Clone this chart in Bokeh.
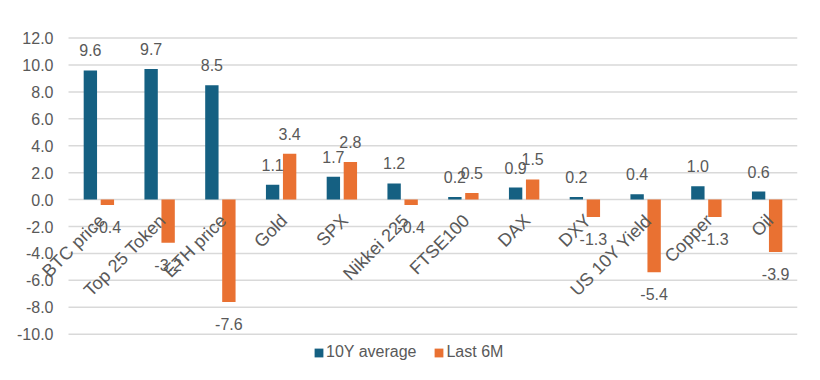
import math
from bokeh.plotting import figure
from bokeh.models import (ColumnDataSource, Legend, LegendItem, NumeralTickFormatter,
                          FixedTicker, LinearAxis, Range1d, CustomJSTickFormatter)
from bokeh.transform import dodge
from bokeh.core.properties import value
from bokeh.embed import file_html
from bokeh.resources import INLINE

categories = ["BTC price", "Top 25 Token", "ETH price", "Gold", "SPX", "Nikkei 225",
              "FTSE100", "DAX", "DXY", "US 10Y Yield", "Copper", "Oil"]
avg_10y = [9.6, 9.7, 8.5, 1.1, 1.7, 1.2, 0.2, 0.9, 0.2, 0.4, 1.0, 0.6]
last_6m = [-0.4, -3.2, -7.6, 3.4, 2.8, -0.4, 0.5, 1.5, -1.3, -5.4, -1.3, -3.9]
y_ticks = [-10, -8, -6, -4, -2, 0, 2, 4, 6, 8, 10, 12]
series_names = ["10Y average", "Last 6M"]

BLUE = "#156082"
ORANGE = "#E97132"
GRAY_TXT = "#595959"
GRID = "#D9D9D9"
FONT = "Liberation Sans"

# layout constants (pixels)
W, H = 806, 372
LEFT_PAD_PX = 68       # space for the value labels left of the plot area
RIGHT_PX = 9
AREA_PX = W - LEFT_PAD_PX - RIGHT_PX

def fmt(v):
    return f"{v:.1f}"

def offs(vals):
    return [-20 if v >= 0 else 22 for v in vals]

n = len(categories)
cat_w = AREA_PX / n
left_pad = LEFT_PAD_PX / cat_w

src = ColumnDataSource(dict(
    idx=list(range(n)), a=avg_10y, b=last_6m,
    a_lbl=[fmt(v) for v in avg_10y], b_lbl=[fmt(v) for v in last_6m],
    a_off=offs(avg_10y), b_off=offs(last_6m),
))

p = figure(width=W, height=H, x_range=Range1d(-0.5 - left_pad, n - 0.5),
           y_range=(-12.4, 14.2), output_backend="svg", toolbar_location=None,
           min_border_left=0, min_border_right=RIGHT_PX, min_border_top=8, min_border_bottom=6)
p.outline_line_color = None
p.background_fill_color = "white"
p.xaxis.visible = False
p.yaxis.visible = False
p.xgrid.visible = False
p.ygrid.visible = False

# horizontal gridlines across the plot area only
p.segment(x0=-0.5, x1=n - 0.5, y0=y_ticks, y1=y_ticks, line_color=GRID, line_width=1.5)

ra = p.vbar(x=dodge("idx", -0.14), top="a", width=0.22, source=src,
            fill_color=BLUE, line_color=None)
rb = p.vbar(x=dodge("idx", 0.14), top="b", width=0.22, source=src,
            fill_color=ORANGE, line_color=None)

# data labels
for key, dx in (("a", -0.14), ("b", 0.14)):
    p.text(x=dodge("idx", dx), y=key, text=f"{key}_lbl", y_offset=f"{key}_off",
           source=src, text_align="center", text_baseline="middle",
           text_font=value(FONT), text_font_size="16px", text_color=GRAY_TXT)

# value axis at the left edge of the plot area
val_axis = LinearAxis(ticker=FixedTicker(ticks=y_ticks), formatter=NumeralTickFormatter(format="0.0"),
                      fixed_location=-0.5)
val_axis.axis_line_color = None
val_axis.major_tick_line_color = None
val_axis.minor_tick_line_color = None
val_axis.major_tick_out = 0
val_axis.minor_tick_out = 0
val_axis.major_label_standoff = 15
val_axis.major_label_text_font = FONT
val_axis.major_label_text_font_size = "16px"
val_axis.major_label_text_color = GRAY_TXT
p.add_layout(val_axis, "left")

# category axis drawn at the zero line, labels slanted
shift = 0.05
p.extra_x_ranges = {"lbl": Range1d(start=-0.5 - left_pad - shift, end=n - 0.5 - shift)}
cat_axis = LinearAxis(x_range_name="lbl", ticker=FixedTicker(ticks=list(range(n))),
                      formatter=CustomJSTickFormatter(args=dict(cats=categories),
                                                      code="return cats[Math.round(tick)] || '';"),
                      fixed_location=0)
cat_axis.axis_line_color = None
cat_axis.major_tick_line_color = None
cat_axis.minor_tick_line_color = None
cat_axis.major_tick_out = 0
cat_axis.minor_tick_out = 0
cat_axis.major_label_orientation = math.pi / 4
cat_axis.major_label_standoff = 18
cat_axis.major_label_text_font = FONT
cat_axis.major_label_text_font_size = "18px"
cat_axis.major_label_text_color = GRAY_TXT
p.add_layout(cat_axis, "below")

legend = Legend(items=[LegendItem(label=series_names[0], renderers=[ra]),
                       LegendItem(label=series_names[1], renderers=[rb])],
                orientation="horizontal", location=(LEFT_PAD_PX + 245, 5),
                glyph_width=11, glyph_height=11, label_standoff=2, spacing=17,
                padding=0, margin=0, border_line_color=None, background_fill_alpha=0,
                label_text_font=FONT, label_text_font_size="16px", label_text_color=GRAY_TXT)
p.add_layout(legend)

open("out.html", "w").write(file_html(p, INLINE))
